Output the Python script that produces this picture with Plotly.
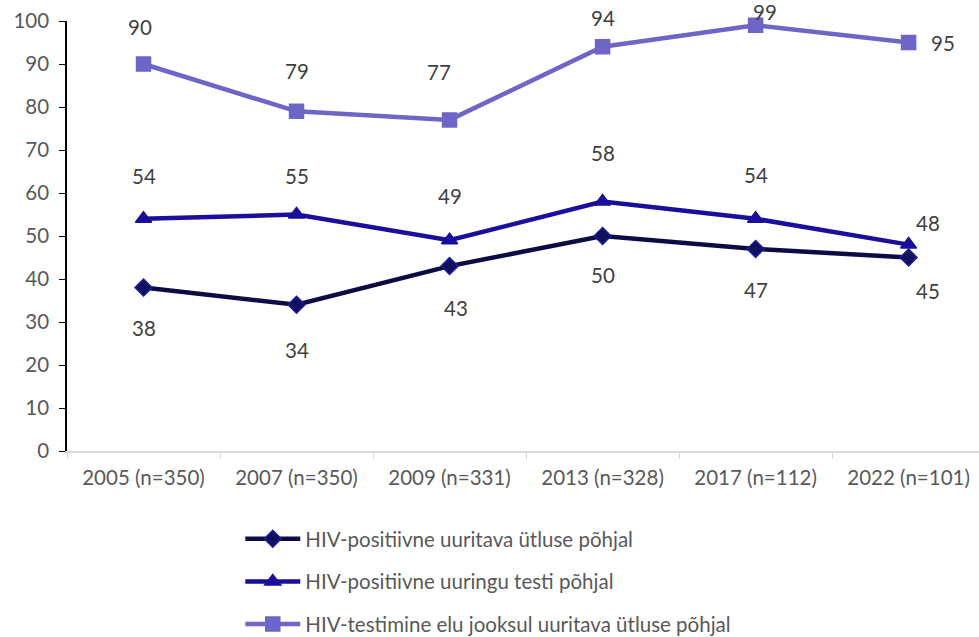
import plotly.graph_objects as go

# Survey rounds and shares (%) for the three indicators
years = ["2005 (n=350)", "2007 (n=350)", "2009 (n=331)",
         "2013 (n=328)", "2017 (n=112)", "2022 (n=101)"]
names = ["HIV-positiivne uuritava ütluse põhjal",
         "HIV-positiivne uuringu testi põhjal",
         "HIV-testimine elu jooksul uuritava ütluse põhjal"]
self_reported_positive = [38, 34, 43, 50, 47, 45]
test_positive = [54, 55, 49, 58, 54, 48]
ever_tested = [90, 79, 77, 94, 99, 95]

series = [self_reported_positive, test_positive, ever_tested]
line_colors = ["#0c0c45", "#1a0f9c", "#6e66c6"]
marker_colors = ["#10105e", "#1a0f9c", "#6e66c6"]
marker_lines = ["#1c1c96", "#1a0f9c", "#6e66c6"]
symbols = ["diamond", "triangle-up", "square"]
msizes = [13, 14, 14]

# label offsets in pixels (xshift, yshift) for each point
label_offsets = [
    [(0, -40), (0, -45), (6, -42), (0, -39), (0, -41), (19, -33)],
    [(0, 43), (0, 39), (0, 44), (0, 49), (0, 44), (19, 22)],
    [(-4, 37), (0, 40), (-11, 48), (0, 29), (9, 13), (34, 0)],
]

FONT = "Lato"
FS = 20.5
GREY = "#595959"

fig = go.Figure()
for i, vals in enumerate(series):
    fig.add_trace(go.Scatter(
        x=years, y=vals, name=names[i], mode="lines+markers",
        line=dict(color=line_colors[i], width=4.5),
        marker=dict(symbol=symbols[i], size=msizes[i], color=marker_colors[i],
                    line=dict(color=marker_lines[i], width=1.5)),
        legendgroup=f"g{i}", cliponaxis=False,
    ))
    for j, v in enumerate(vals):
        dx, dy = label_offsets[i][j]
        fig.add_annotation(x=years[j], y=v, text=str(v), showarrow=False,
                           xshift=dx, yshift=dy,
                           font=dict(family=FONT, size=FS, color="#404040"))

fig.update_layout(
    width=979, height=637,
    margin=dict(l=67, r=0, t=21, b=186, autoexpand=False),
    paper_bgcolor="white", plot_bgcolor="white",
    font=dict(family=FONT, size=FS, color=GREY),
    showlegend=True,
    legend=dict(orientation="v", x=0.19, xanchor="left", y=-0.158, yanchor="top",
                tracegroupgap=13, font=dict(family=FONT, size=FS, color=GREY),
                itemwidth=55),
    xaxis=dict(range=[-0.5, 5.46], showline=True, linecolor="#d9d9d9", linewidth=1.5,
               ticks="outside", tickson="boundaries", ticklen=6, tickcolor="#d9d9d9",
               ticklabelstandoff=8,
               showgrid=False, zeroline=False, tickfont=dict(size=FS, color=GREY)),
    yaxis=dict(range=[0, 100], dtick=10, showline=True, linecolor="black", linewidth=1.5,
               ticks="outside", ticklen=6, tickcolor="black", showgrid=False,
               ticklabelstandoff=6,
               zeroline=False, tickfont=dict(size=FS, color=GREY)),
)

fig.write_html("out.html")
